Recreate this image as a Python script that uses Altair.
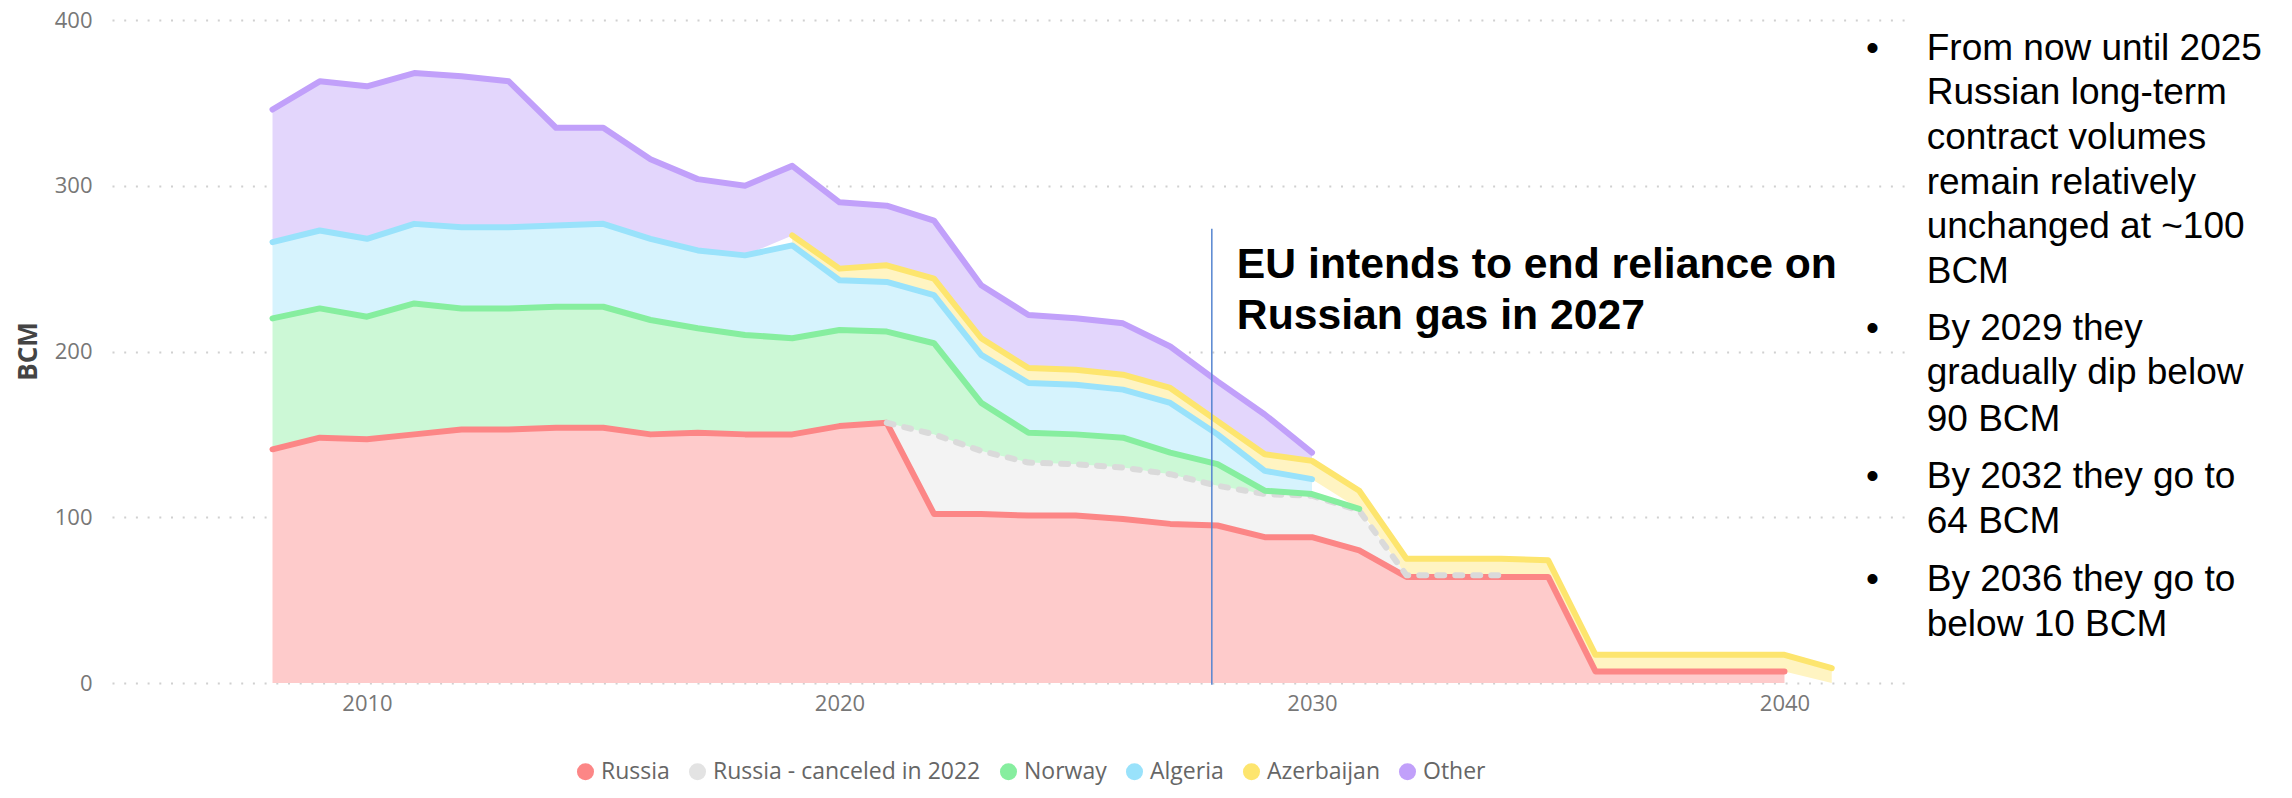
import altair as alt
import pandas as pd

# ---------------- data (BCM per year) ----------------
years = list(range(2008, 2042))

series = ["Russia", "Russia - canceled in 2022", "Norway", "Algeria", "Azerbaijan", "Other"]

russia = [141, 148, 147, 150, 153, 153, 154, 154, 150, 151, 150, 150, 155, 157,
          102, 102, 101, 101, 99, 96, 95, 88, 88, 80,
          64, 64, 64, 64, 7, 7, 7, 7, 7, None]
canceled = [None] * 13 + [0, 48, 38, 32, 31, 31, 30, 24, 26, 25, 24, 1, 1, 1] + [None] * 7
norway = [79, 78, 74, 79, 73, 73, 73, 73, 69, 63, 60, 58, 58, 55,
          55, 29, 18, 18, 18, 13, 13, 2, 1, 1] + [None] * 10
algeria = [46, 47, 47, 48, 49, 49, 49, 50, 49, 47, 48, 56, 30, 30,
           29, 29, 30, 30, 29, 30, 18, 12, 9] + [None] * 11
azerbaijan = [None] * 11 + [6, 7, 10, 10, 10, 9, 9, 9, 9, 8, 10, 11, 11,
                            10, 10, 10, 10, 10, 10, 10, 10, 10, 9]
other = [80, 90, 92, 91, 91, 88, 59, 58, 48, 43, 42, 42, 40, 36,
         35, 32, 32, 31, 31, 25, 24, 24, 5] + [None] * 11

values = [russia, canceled, norway, algeria, azerbaijan, other]

line_colors = ["#FC8686", "#DADADA", "#86EE9F", "#99E2FB", "#FDE56E", "#C1A0FA"]
area_colors = ["#FECBCB", "#F3F3F3", "#CCF8D6", "#D6F3FD", "#FFF4C2", "#E3D6FC"]
legend_colors = ["#FC8686", "#E3E3E3", "#86EE9F", "#99E2FB", "#FDE56E", "#C1A0FA"]

# stacked (cumulative) bands, only where a series has a value
rows = []
base = [0.0] * len(years)
for name, vals in zip(series, values):
    for i, yr in enumerate(years):
        v = vals[i]
        if v is not None:
            rows.append({"year": yr, "series": name, "low": base[i], "high": base[i] + v})
    base = [b + (v if v is not None else 0) for b, v in zip(base, vals)]
df = pd.DataFrame(rows)

# ---------------- annotations ----------------
eu_lines = ["EU intends to end reliance on", "Russian gas in 2027"]
bullet_lines = [
    ["From now until 2025", "Russian long-term", "contract volumes",
     "remain relatively", "unchanged at ~100", "BCM"],
    ["By 2029 they", "gradually dip below", "90 BCM"],
    ["By 2032 they go to", "64 BCM"],
    ["By 2036 they go to", "below 10 BCM"],
]

eu_df = pd.DataFrame({"year": [2028.41, 2028.41], "high": [244.6, 213.4], "text": eu_lines})
note_y = [[375.8, 349.6, 322.4, 295.2, 268.2, 241.1],
          [206.7, 180.2, 152.1],
          [117.8, 90.2],
          [55.3, 28.1]]
note_rows, bullet_rows = [], []
for lines, ys in zip(bullet_lines, note_y):
    bullet_rows.append({"year": 2041.86, "high": ys[0], "text": "•"})
    for t, yy in zip(lines, ys):
        note_rows.append({"year": 2043.01, "high": yy, "text": t})
note_df = pd.DataFrame(note_rows)
bullet_df = pd.DataFrame(bullet_rows)
rule_df = pd.DataFrame({"year": [2027.88], "high": [274.0], "low": [-1.0]})
legend_df = pd.DataFrame({"series": series, "year": [2010] * 6, "high": [0] * 6})

# ---------------- encodings ----------------
x = alt.X("year:Q",
          scale=alt.Scale(domain=[2004.603, 2042.593], nice=False, zero=False),
          axis=alt.Axis(values=[2010, 2020, 2030, 2040], format="d", grid=False,
                        domain=False, ticks=False, tickSize=0, labelPadding=10,
                        labelFont="Open Sans", labelFontSize=22, labelColor="#777777",
                        title=None))
y = alt.Y("high:Q",
          scale=alt.Scale(domain=[0, 400], nice=False),
          axis=alt.Axis(values=[0, 100, 200, 300, 400], grid=True, gridDash=[2, 9.7],
                        gridColor="#d0d0d0", gridWidth=2, domain=False, ticks=False,
                        tickSize=0, labelPadding=20, labelFont="Open Sans",
                        labelFontSize=22, labelColor="#777777",
                        title="BCM", titleX=-84, titleY=331, titleAngle=270,
                        titleAlign="center", titleBaseline="middle",
                        titleFont="Open Sans", titleFontSize=26, titleFontWeight="bold",
                        titleColor="#444444"))

layers = []
for i, name in enumerate(series):
    sub = df[df["series"] == name]
    layers.append(alt.Chart(sub).mark_area(color=area_colors[i], interpolate="linear")
                  .encode(x=x, y=y, y2="low:Q"))
for i, name in enumerate(series):
    sub = df[df["series"] == name]
    if name == "Russia - canceled in 2022":
        mk = alt.Chart(sub).mark_line(strokeWidth=6, strokeCap="round", strokeJoin="round",
                                      strokeDash=[7, 11], color=line_colors[i])
    else:
        mk = alt.Chart(sub).mark_line(strokeWidth=6, strokeCap="round", strokeJoin="round",
                                      color=line_colors[i])
    layers.append(mk.encode(x=x, y=y))

legend_layer = alt.Chart(legend_df).mark_circle(size=0, opacity=1).encode(
    x=x, y=y,
    color=alt.Color("series:N", scale=alt.Scale(domain=series, range=legend_colors),
                    legend=alt.Legend(title=None, orient="none", legendX=462, legendY=740,
                                      direction="horizontal", symbolType="circle",
                                      symbolSize=290, symbolStrokeWidth=0,
                                      symbolOpacity=1,
                                      labelFont="Open Sans", labelFontSize=23,
                                      labelColor="#666666", labelLimit=400,
                                      columnPadding=16, labelOffset=4, padding=0)),
)

rule = alt.Chart(rule_df).mark_rule(color="#5585D0", strokeWidth=1.5).encode(
    x=x, y=y, y2="low:Q")

eu_text = alt.Chart(eu_df).mark_text(align="left", baseline="alphabetic",
                                     font="Liberation Sans", fontSize=42.7,
                                     fontWeight="bold", color="#000000").encode(
    x=x, y=y, text="text:N")

notes = alt.Chart(note_df).mark_text(align="left", baseline="alphabetic",
                                     font="Liberation Sans", fontSize=37,
                                     color="#000000").encode(x=x, y=y, text="text:N")
bullets = alt.Chart(bullet_df).mark_text(align="center", baseline="alphabetic",
                                         font="Liberation Sans", fontSize=37,
                                         color="#000000").encode(x=x, y=y, text="text:N")

chart = alt.layer(*layers, legend_layer, rule, eu_text, notes, bullets).properties(
    width=1795, height=663,
    autosize=alt.AutoSizeParams(type="none"),
    padding={"left": 104, "top": 12, "right": 377, "bottom": 107},
    background="white",
).configure_view(strokeWidth=0)

chart.save("out.html", embed_options={"renderer": "svg", "actions": False})
